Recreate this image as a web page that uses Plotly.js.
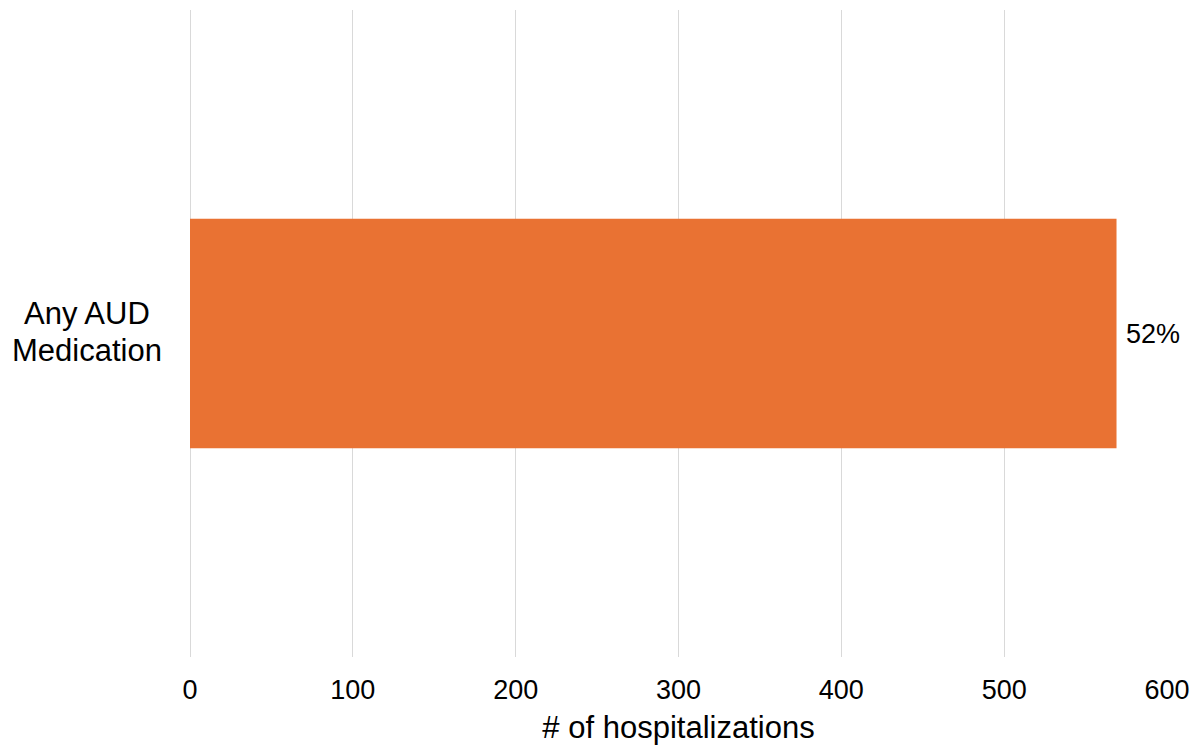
<!DOCTYPE html>
<html>
<head>
<meta charset="utf-8">
<script src="https://cdn.plot.ly/plotly-3.0.1.min.js"></script>
<style>html,body{margin:0;padding:0;background:#fff;}#chart{width:1194px;height:748px;}</style>
</head>
<body>
<div id="chart"></div>
<script>
const categories = ["Any AUD Medication"];
const categoryLabelLines = [["Any AUD", "Medication"]];
const hospitalizations = [569];
const percentLabels = ["52%"];
const xTicks = [0, 100, 200, 300, 400, 500, 600];

const FONT = "Liberation Sans, Arial, sans-serif";

const trace = {
  type: "bar",
  orientation: "h",
  y: categories,
  x: hospitalizations,
  width: 0.355,
  marker: {color: "#E97233"},
  hoverinfo: "skip"
};

const lineShifts = [20, -17];
const annotations = [];
categories.forEach((c, i) => {
  categoryLabelLines[i].forEach((line, j) => {
    annotations.push({
      x: 0, y: c, xref: "x", yref: "y",
      text: line, showarrow: false, xanchor: "center", yanchor: "middle",
      xshift: -103, yshift: lineShifts[j],
      font: {family: FONT, size: 31, color: "#000"}
    });
  });
  annotations.push({
    x: hospitalizations[i], y: c, xref: "x", yref: "y",
    text: percentLabels[i], showarrow: false, xanchor: "left", yanchor: "middle",
    xshift: 7,
    font: {family: FONT, size: 27, color: "#000"}
  });
});

const layout = {
  width: 1194, height: 748,
  margin: {l: 190, r: 26.5, t: 10, b: 91},
  paper_bgcolor: "#fff", plot_bgcolor: "#fff",
  showlegend: false,
  font: {family: FONT, size: 27, color: "#000"},
  xaxis: {
    range: [0, 600],
    tickvals: xTicks,
    ticktext: xTicks.map(String),
    showgrid: true, gridcolor: "#D9D9D9", gridwidth: 1,
    zeroline: true, zerolinecolor: "#D9D9D9", zerolinewidth: 1,
    showline: false, ticks: "",
    ticklabelstandoff: 14,
    tickfont: {family: FONT, size: 27, color: "#000"},
    title: {text: "# of hospitalizations", font: {family: FONT, size: 31, color: "#000"}, standoff: 12}
  },
  yaxis: {
    range: [-0.5, 0.5],
    showticklabels: false,
    showgrid: false, zeroline: false, showline: false, ticks: ""
  },
  annotations: annotations
};

Plotly.newPlot("chart", [trace], layout, {displayModeBar: false, staticPlot: true});
</script>
</body>
</html>
